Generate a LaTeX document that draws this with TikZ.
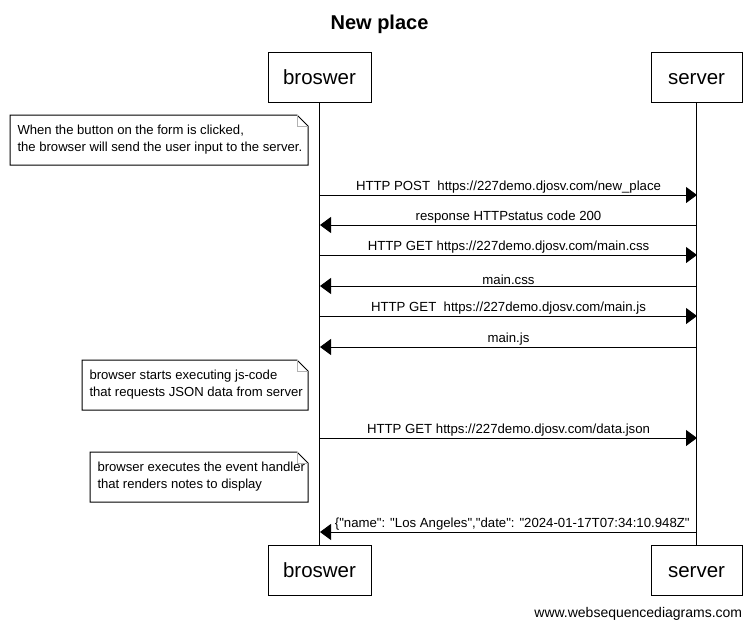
\documentclass[tikz,border=0pt]{standalone}
\usepackage{fontspec}
\setmainfont{Liberation Sans}
\usetikzlibrary{arrows.meta}

% note with folded corner: x1, y1, x2, y2
\newcommand{\drawnote}[4]{%
  \draw (#1,#2) -- (#3-11,#2) -- (#3,#2+11) -- (#3,#4) -- (#1,#4) -- cycle;
  \draw[gray!60] (#3-11,#2) -- (#3-11,#2+11) -- (#3,#2+11);
}

\begin{document}
\begin{tikzpicture}[x=1pt, y=-1pt, line width=1pt,
    actor/.style={draw, minimum height=50pt, inner sep=0pt, text height=15pt, text depth=0pt, font=\fontsize{20.5}{25}\selectfont},
    msg/.style={-{Triangle[length=11pt,width=16pt]}},
    lbl/.style={above, inner sep=1pt, font=\fontsize{13.2}{15}\selectfont},
    notetext/.style={anchor=west, align=left, inner sep=0pt, font=\fontsize{13.1}{17}\selectfont}]
    \useasboundingbox (0,0) rectangle (756,629);
    \node[anchor=base, font=\bfseries\fontsize{20}{24}\selectfont] (title) at (379.5,29) {New place};
    \node[actor, minimum width=103pt] (browserTop) at (319.5,77) {broswer};
    \node[actor, minimum width=91pt] (serverTop) at (696.5,77) {server};
    \node[actor, minimum width=103pt] (browserBot) at (319.5,570) {broswer};
    \node[actor, minimum width=91pt] (serverBot) at (696.5,570) {server};
    \draw (browserTop) -- (browserBot);
    \draw (serverTop) -- (serverBot);
    % message ends on the lifelines
    \foreach \i/\y in {1/195, 2/225, 3/255, 4/286, 5/316, 6/347, 7/438, 8/532} {
        \coordinate (B\i) at (320,\y);
        \coordinate (S\i) at (697,\y);
    }
    \drawnote{10}{115}{308}{165}
    \node[notetext] (note1) at (17,140) {When the button on the form is clicked,\\the browser will send the user input to the server.};
    \draw[msg] (B1) -- node[lbl] {HTTP POST \ https://227demo.djosv.com/new\_place} (S1);
    \draw[msg] (S2) -- node[lbl] {response HTTPstatus code 200} (B2);
    \draw[msg] (B3) -- node[lbl] {HTTP GET https://227demo.djosv.com/main.css} (S3);
    \draw[msg] (S4) -- node[lbl] {main.css} (B4);
    \draw[msg] (B5) -- node[lbl] {HTTP GET \ https://227demo.djosv.com/main.js} (S5);
    \draw[msg] (S6) -- node[lbl] {main.js} (B6);
    \drawnote{82}{360}{308}{410}
    \node[notetext] (note2) at (89,385) {browser starts executing js-code\\that requests JSON data from server};
    \draw[msg] (B7) -- node[lbl] {HTTP GET https://227demo.djosv.com/data.json} (S7);
    \drawnote{90}{452}{308}{502}
    \node[notetext] (note3) at (97,477) {browser executes the event handler\\that renders notes to display};
    \draw[msg] (S8) -- node[lbl, pos=0.49] {\{\textquotedbl name\textquotedbl: \textquotedbl Los Angeles\textquotedbl,\textquotedbl date\textquotedbl: \textquotedbl 2024-01-17T07:34:10.948Z\textquotedbl} (B8);
    \node[anchor=base east, font=\fontsize{14}{16}\selectfont] (footer) at (746,617) {www.websequencediagrams.com};
\end{tikzpicture}
\end{document}
